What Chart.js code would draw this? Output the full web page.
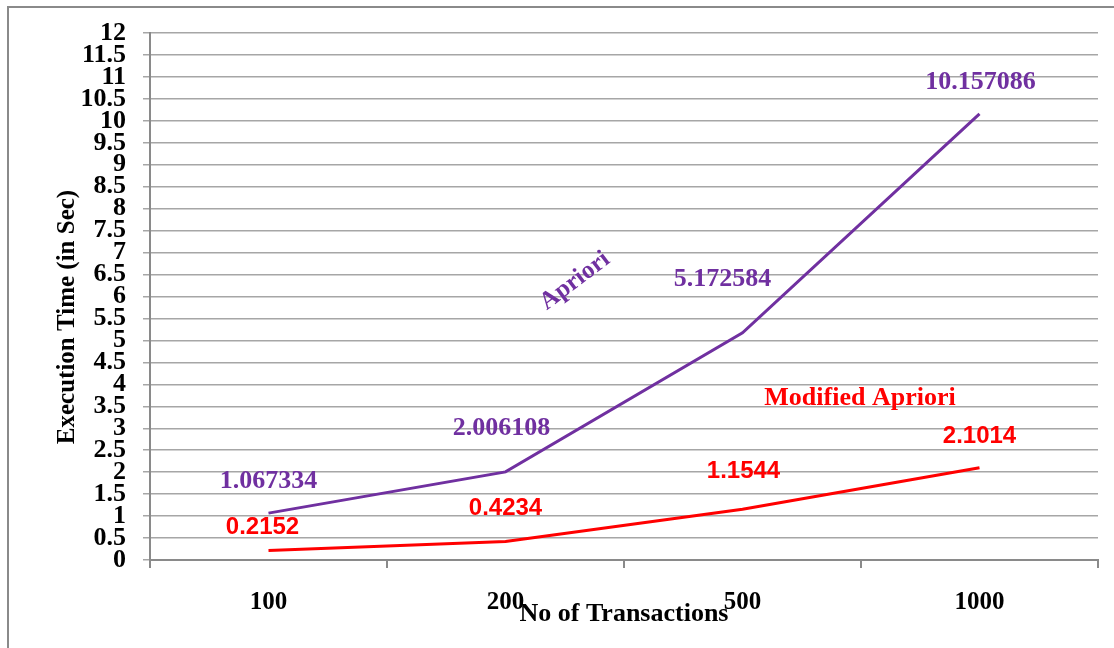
<!DOCTYPE html>
<html lang="en">
<head>
    <meta charset="UTF-8">
    <title>Execution Time</title>
    <script src="https://cdn.jsdelivr.net/npm/chart.js"></script>
    <style>
        html, body { margin: 0; padding: 0; background: #fff; overflow: hidden; }
        .wrap-chart { position: relative; width: 1114px; height: 648px; }
    </style>
</head>
<body>
<div class="wrap-chart">
    <canvas id="myChart"></canvas>
</div>
<script>
    // data
    const transactions = ['100', '200', '500', '1000'];
    const apriori = [1.067334, 2.006108, 5.172584, 10.157086];
    const modifiedApriori = [0.2152, 0.4234, 1.1544, 2.1014];
    const yTicks = [0, 0.5, 1, 1.5, 2, 2.5, 3, 3.5, 4, 4.5, 5, 5.5, 6, 6.5, 7, 7.5, 8, 8.5, 9, 9.5, 10, 10.5, 11, 11.5, 12];

    const PURPLE = '#7030A0';
    const RED = '#FF0000';
    const SERIF = '"Liberation Serif", "Times New Roman", serif';
    const SANS = '"Liberation Sans", Arial, sans-serif';

    // frame + axis titles + series names + value labels
    const extras = {
        id: 'extras',
        beforeDraw(chart) {
            const ctx = chart.ctx;
            ctx.save();
            ctx.strokeStyle = '#8a8a8a';
            ctx.lineWidth = 2;
            ctx.beginPath();
            ctx.moveTo(8, 648);
            ctx.lineTo(8, 7);
            ctx.lineTo(1114, 7);
            ctx.stroke();
            ctx.restore();
        },
        afterDatasetsDraw(chart, args, opts) {
            const ctx = chart.ctx;
            ctx.save();
            ctx.textAlign = 'center';
            ctx.textBaseline = 'middle';

            chart.data.datasets.forEach((ds, i) => {
                const meta = chart.getDatasetMeta(i);
                const offs = opts.offsets[i];
                ctx.fillStyle = ds.borderColor;
                ctx.font = opts.fonts[i];
                meta.data.forEach((pt, j) => {
                    ctx.fillText(String(ds.data[j]), pt.x + offs[j][0], pt.y + offs[j][1]);
                });
            });

            // series names
            ctx.font = 'bold 25px ' + SERIF;
            ctx.fillStyle = PURPLE;
            ctx.save();
            ctx.translate(575, 281);
            ctx.rotate(-37 * Math.PI / 180);
            ctx.fillText('Apriori', 0, 0);
            ctx.restore();

            ctx.font = 'bold 26px ' + SERIF;
            ctx.fillStyle = RED;
            ctx.fillText('Modified Apriori', 860, 398);

            // axis titles
            ctx.fillStyle = '#000';
            ctx.font = 'bold 26px ' + SERIF;
            ctx.fillText('No of Transactions', 624, 614);

            ctx.save();
            ctx.translate(68, 317);
            ctx.rotate(-Math.PI / 2);
            ctx.font = 'bold 25px ' + SERIF;
            ctx.fillText('Execution Time (in Sec)', 0, 0);
            ctx.restore();

            ctx.restore();
        }
    };

    const chart = new Chart(document.getElementById('myChart'), {
        type: 'line',
        data: {
            labels: transactions,
            datasets: [
                {
                    label: 'Apriori',
                    data: apriori,
                    borderColor: PURPLE,
                    backgroundColor: PURPLE,
                    borderWidth: 3,
                    pointRadius: 0,
                    tension: 0,
                    fill: false
                },
                {
                    label: 'Modified Apriori',
                    data: modifiedApriori,
                    borderColor: RED,
                    backgroundColor: RED,
                    borderWidth: 3,
                    pointRadius: 0,
                    tension: 0,
                    fill: false
                }
            ]
        },
        plugins: [extras],
        options: {
            responsive: true,
            maintainAspectRatio: false,
            animation: false,
            layout: { padding: { top: 33, right: 16, left: 0, bottom: 0 } },
            plugins: {
                legend: { display: false },
                tooltip: { enabled: false },
                extras: {
                    fonts: ['bold 26px ' + SERIF, 'bold 24px ' + SANS],
                    offsets: [
                        [[0, -32], [-4, -44], [-20, -54], [1, -32]],
                        [[-6, -23], [0, -33], [1, -38], [0, -31]]
                    ]
                }
            },
            scales: {
                x: {
                    offset: true,
                    afterFit(scale) { scale.height = 88; },
                    grid: {
                        offset: true,
                        drawOnChartArea: false,
                        drawTicks: true,
                        tickLength: 8,
                        color: '#8a8a8a',
                        lineWidth: 2
                    },
                    border: { color: '#8a8a8a', width: 2 },
                    ticks: {
                        color: '#000',
                        padding: 20,
                        maxRotation: 0,
                        font: { family: SERIF, size: 25, weight: 'bold' }
                    }
                },
                y: {
                    min: 0,
                    max: 12,
                    afterFit(scale) { scale.width = 150; },
                    afterBuildTicks(scale) { scale.ticks = yTicks.map(v => ({ value: v })); },
                    grid: {
                        color: '#a6a6a6',
                        lineWidth: 1.5,
                        tickLength: 7
                    },
                    border: { color: '#8a8a8a', width: 2 },
                    ticks: {
                        autoSkip: false,
                        color: '#000',
                        padding: 17,
                        callback: v => String(v),
                        font: { family: SERIF, size: 26, weight: 'bold', lineHeight: 0.85 }
                    }
                }
            }
        }
    });
</script>
</body>
</html>
